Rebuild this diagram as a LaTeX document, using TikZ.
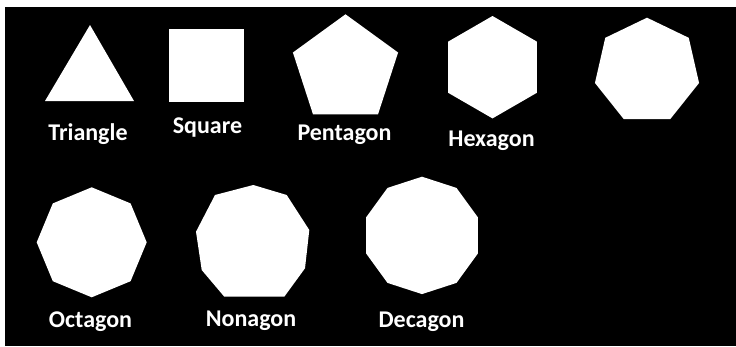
\documentclass[tikz,border=0pt]{standalone}
\usepackage{fontspec}
\setmainfont{Carlito}
\begin{document}
\begin{tikzpicture}[x=1pt,y=-1pt,
  poly/.style={fill=white},
  lbl/.style={text=white,font=\bfseries\fontsize{24}{28}\selectfont,inner sep=0pt,anchor=base}]
\fill[white] (0,0) rectangle (736,346);
\fill[black] (5,7) rectangle (736,346);
\useasboundingbox (0,0) rectangle (736,346);
% triangle
\fill[poly] (90,25) -- (45,101) -- (134,101) -- cycle;
% square
\fill[poly] (169,29) rectangle (244,102);
% pentagon
\fill[poly] plot[domain=0:4,samples=5] ({345.5+55.3*cos(90+72*\x)},{69.6-55.3*sin(90+72*\x)}) -- cycle;
% hexagon
\fill[poly] plot[domain=0:5,samples=6] ({492.5+51.2*cos(90+60*\x)},{67.2-51.2*sin(90+60*\x)}) -- cycle;
% heptagon
\fill[poly] plot[domain=0:6,samples=7] ({647+53.4*cos(90+360/7*\x)},{71.1-53.4*sin(90+360/7*\x)}) -- cycle;
% octagon
\fill[poly] plot[domain=0:7,samples=8] ({91.7+55*cos(90+45*\x)},{242.3-55*sin(90+45*\x)}) -- cycle;
% nonagon
\fill[poly] (253.3,185) -- (286.7,195) -- (309.3,230) -- (305,268.3) -- (284.3,296.7)
  -- (224.3,296.7) -- (201.7,270) -- (196,231.7) -- (215,195) -- cycle;
% decagon
\fill[poly] plot[domain=0:9,samples=10] ({422+58.7*cos(90+36*\x)},{235.4-58.7*sin(90+36*\x)}) -- cycle;
% labels
\node[lbl] (ltri) at (88,140) {Triangle};
\node[lbl] (lsq) at (207.5,133) {Square};
\node[lbl] (lpen) at (344.5,140) {Pentagon};
\node[lbl] (lhex) at (491.5,146) {Hexagon};
\node[lbl] (loct) at (90.5,327.7) {Octagon};
\node[lbl] (lnon) at (251,326) {Nonagon};
\node[lbl] (ldec) at (421.5,327.7) {Decagon};
\end{tikzpicture}
\end{document}
